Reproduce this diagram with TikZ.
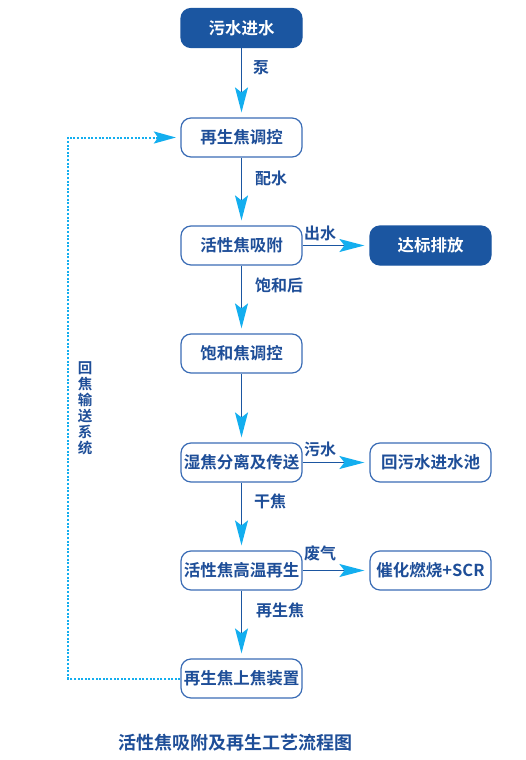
\documentclass[tikz,border=0pt]{standalone}
\usepackage{fontspec}
\setmainfont{Noto Sans CJK SC}[BoldFont={Noto Sans CJK SC Bold}]
\usetikzlibrary{arrows.meta}
\definecolor{dkblue}{HTML}{1B56A1}
\definecolor{txtblue}{HTML}{1E4E98}
\definecolor{bordblue}{HTML}{3A6CB5}
\definecolor{cyanc}{HTML}{13AEEF}
\begin{document}
\begin{tikzpicture}[x=1pt,y=-1pt,
  box/.style={draw=bordblue,line width=1.2pt,rounded corners=10pt,minimum width=121pt,minimum height=39pt,inner sep=0pt,text=txtblue,font=\bfseries\fontsize{16.5}{16.5}\selectfont},
  darkbox/.style={box,fill=dkblue,draw=dkblue,text=white},
  flow/.style={draw=dkblue,line width=1.6pt,-{Stealth[length=25pt,width=13pt,inset=5pt,color=cyanc]},shorten >=5pt},
  back/.style={draw=cyanc,line width=2pt,dash pattern=on 2pt off 1.6pt,-{Stealth[length=22pt,width=12pt,inset=4pt,color=cyanc,sep]},shorten >=3pt},
  lbl/.style={text=txtblue,font=\bfseries\fontsize{16}{16}\selectfont,inner sep=0pt}]
\useasboundingbox (0,0) rectangle (526,760);
% main column
\node[darkbox] (n1) at (241.5,28) {污水进水};
\node[box] (n2) at (241.5,137.5) {再生焦调控};
\node[box] (n3) at (241.5,245.5) {活性焦吸附};
\node[box] (n4) at (241.5,353.5) {饱和焦调控};
\node[box] (n5) at (241.5,462.5) {湿焦分离及传送};
\node[box] (n6) at (241.5,570.5) {活性焦高温再生};
\node[box] (n7) at (241.5,678.5) {再生焦上焦装置};
% right column
\node[darkbox] (r1) at (430.5,245.5) {达标排放};
\node[box] (r2) at (430.5,462.5) {回污水进水池};
\node[box] (r3) at (430.5,570.5) {催化燃烧+SCR};
% vertical arrows
\draw[flow] (n1) -- (n2);
\draw[flow] (n2) -- (n3);
\draw[flow] (n3) -- (n4);
\draw[flow] (n4) -- (n5);
\draw[flow] (n5) -- (n6);
\draw[flow] (n6) -- (n7);
% horizontal arrows
\draw[flow] (n3) -- (r1);
\draw[flow] (n5) -- (r2);
\draw[flow] (n6) -- (r3);
% labels
\node[lbl] (l1) at (261,68) {泵};
\node[lbl] (l2) at (271,178) {配水};
\node[lbl] (l3) at (320,233) {出水};
\node[lbl] (l4) at (279,285) {饱和后};
\node[lbl] (l5) at (320,449) {污水};
\node[lbl] (l6) at (270,501) {干焦};
\node[lbl] (l7) at (320,553) {废气};
\node[lbl] (l8) at (280,610) {再生焦};
% return loop
\coordinate (c1) at (68,678.5);
\coordinate (c2) at (68,137.5);
\draw[back] (n7.west) -- (c1) -- (c2) -- (n2.west);
\node[text=txtblue,font=\bfseries\fontsize{14.5}{16}\selectfont,align=center,inner sep=0pt] (vl) at (85,408) {回\\焦\\输\\送\\系\\统};
% title
\node[text=txtblue,font=\bfseries\fontsize{18}{18}\selectfont,inner sep=0pt] (title) at (235.5,743) {活性焦吸附及再生工艺流程图};
\end{tikzpicture}
\end{document}
